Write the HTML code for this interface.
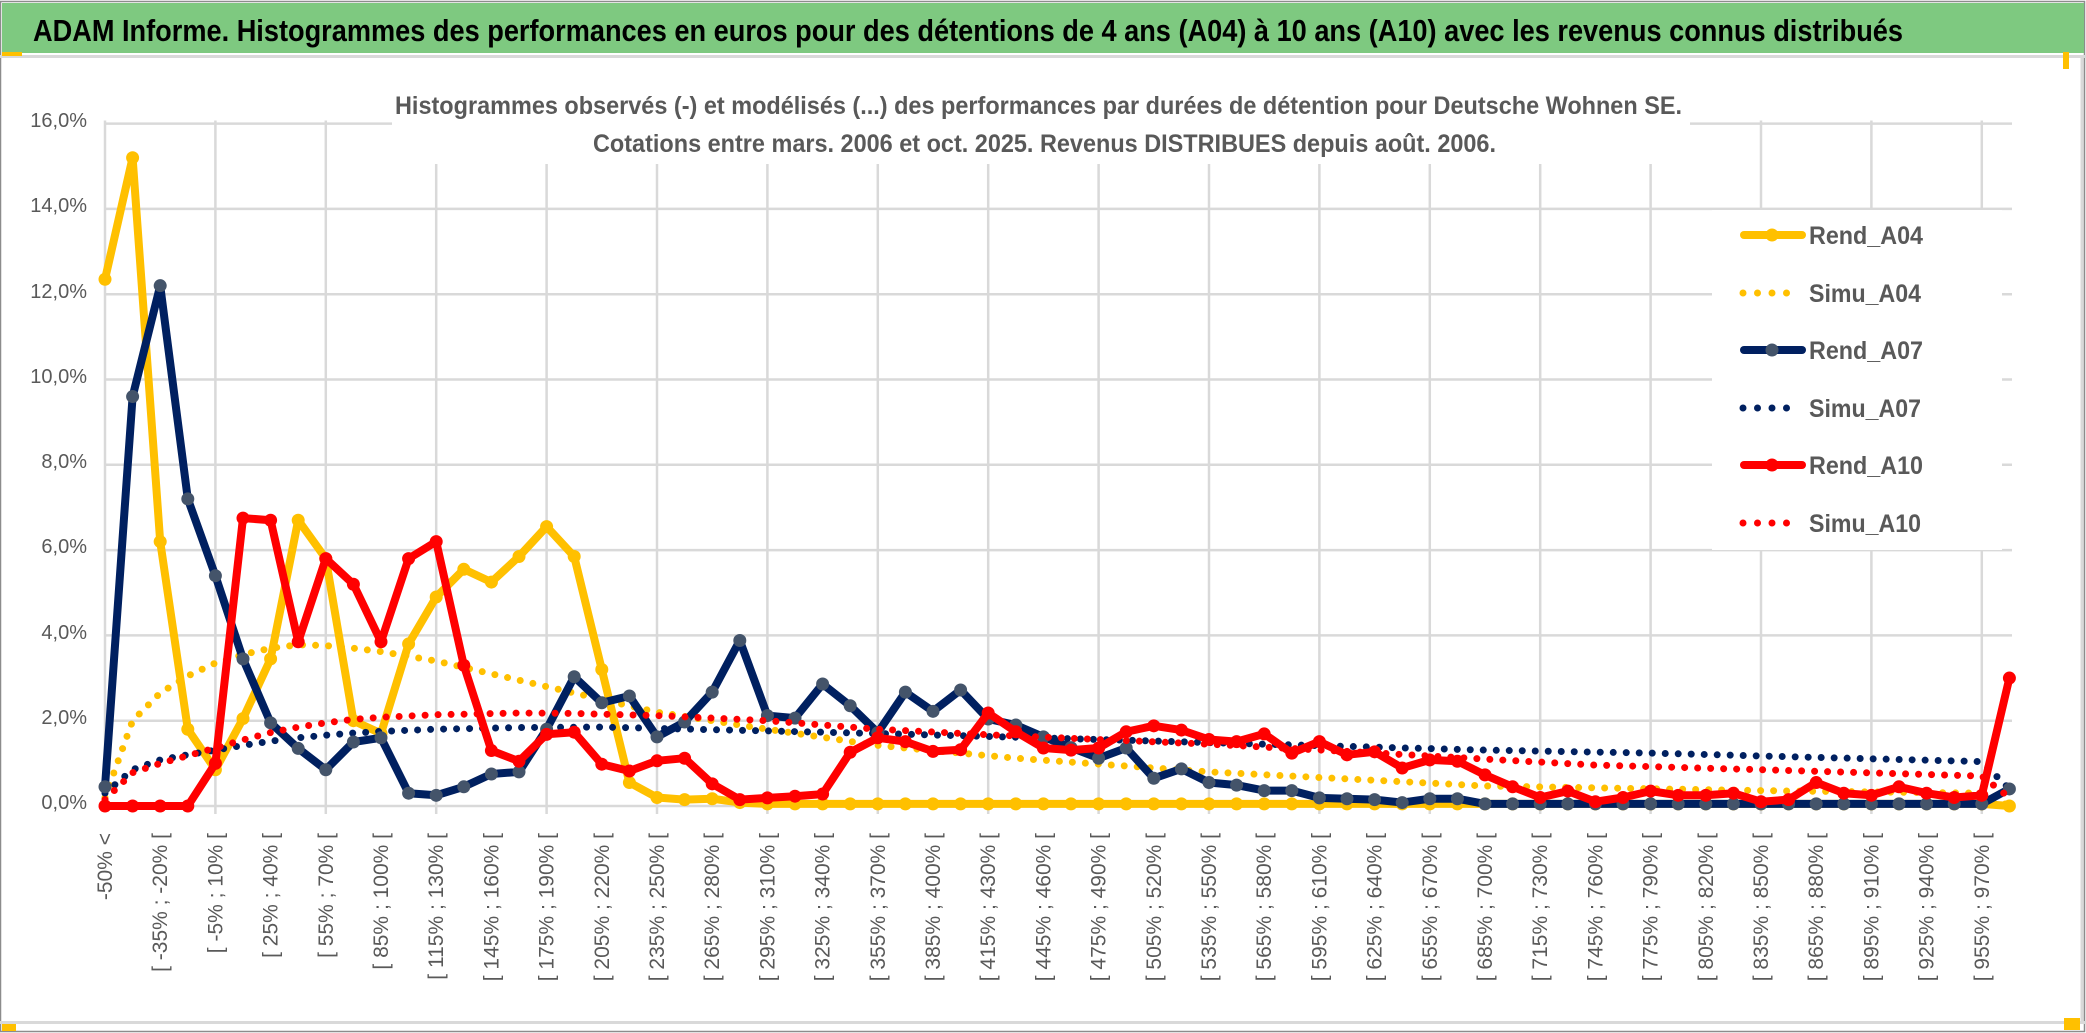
<!DOCTYPE html>
<html><head><meta charset="utf-8">
<style>
html,body{margin:0;padding:0;background:#fff;}
svg{display:block;}
text{font-family:"Liberation Sans",sans-serif;}
</style></head>
<body>
<svg id="c" width="2086" height="1033" viewBox="0 0 2086 1033" xmlns="http://www.w3.org/2000/svg">
<rect x="0" y="0" width="2086" height="1033" fill="#fff"/>
<rect x="0.5" y="1.5" width="2084" height="1030" fill="none" stroke="#8c8c8c" stroke-width="1.5"/>
<rect x="2" y="3" width="2082" height="50" fill="#7ec980"/>
<line x1="0" y1="56.5" x2="2086" y2="56.5" stroke="#d9d9d9" stroke-width="3"/>
<rect x="2" y="52" width="20" height="4" fill="#ffc000"/>
<rect x="2063" y="52" width="6" height="17" fill="#ffc000"/>
<line x1="2082" y1="58" x2="2082" y2="1022" stroke="#d9d9d9" stroke-width="3"/>
<line x1="0" y1="1022.5" x2="2086" y2="1022.5" stroke="#d9d9d9" stroke-width="3"/>
<rect x="2" y="1024" width="14" height="7" fill="#ffc000"/>
<rect x="2064" y="1018" width="16" height="12" fill="#ffc000"/>
<text x="33" y="41" font-size="31" font-weight="bold" fill="#000" textLength="1870" lengthAdjust="spacingAndGlyphs">ADAM Informe. Histogrammes des performances en euros pour des détentions de 4 ans (A04) à 10 ans (A10) avec les revenus connus distribués</text>

<g id="grid" stroke="#d9d9d9" stroke-width="2.5"></g>
<rect x="392" y="70" width="1298" height="94" fill="#fff"/>
<text x="395" y="114" font-size="25" font-weight="bold" fill="#595959" textLength="1287" lengthAdjust="spacingAndGlyphs">Histogrammes observés (-) et modélisés (...) des performances par durées de détention pour Deutsche Wohnen SE.</text>
<text x="593" y="152" font-size="25" font-weight="bold" fill="#595959" textLength="903" lengthAdjust="spacingAndGlyphs">Cotations entre mars. 2006 et oct. 2025. Revenus DISTRIBUES depuis août. 2006.</text>

<g font-size="20" fill="#595959" text-anchor="end">
<text x="87" y="127">16,0%</text>
<text x="87" y="212">14,0%</text>
<text x="87" y="298">12,0%</text>
<text x="87" y="383">10,0%</text>
<text x="87" y="468">8,0%</text>
<text x="87" y="553">6,0%</text>
<text x="87" y="639">4,0%</text>
<text x="87" y="724">2,0%</text>
<text x="87" y="809">0,0%</text>
</g>
<g id="xl" font-size="21" fill="#595959" text-anchor="end">
<text transform="translate(112,833) rotate(-90)">-50% &lt;</text>
<text transform="translate(167.2,833) rotate(-90)">[ -35% ; -20% [</text>
<text transform="translate(222.4,833) rotate(-90)">[ -5% ; 10% [</text>
<text transform="translate(277.6,833) rotate(-90)">[ 25% ; 40% [</text>
<text transform="translate(332.8,833) rotate(-90)">[ 55% ; 70% [</text>
<text transform="translate(388,833) rotate(-90)">[ 85% ; 100% [</text>
<text transform="translate(443.2,833) rotate(-90)">[ 115% ; 130% [</text>
<text transform="translate(498.4,833) rotate(-90)">[ 145% ; 160% [</text>
<text transform="translate(553.6,833) rotate(-90)">[ 175% ; 190% [</text>
<text transform="translate(608.8,833) rotate(-90)">[ 205% ; 220% [</text>
<text transform="translate(664,833) rotate(-90)">[ 235% ; 250% [</text>
<text transform="translate(719.2,833) rotate(-90)">[ 265% ; 280% [</text>
<text transform="translate(774.4,833) rotate(-90)">[ 295% ; 310% [</text>
<text transform="translate(829.6,833) rotate(-90)">[ 325% ; 340% [</text>
<text transform="translate(884.8,833) rotate(-90)">[ 355% ; 370% [</text>
<text transform="translate(940,833) rotate(-90)">[ 385% ; 400% [</text>
<text transform="translate(995.2,833) rotate(-90)">[ 415% ; 430% [</text>
<text transform="translate(1050.4,833) rotate(-90)">[ 445% ; 460% [</text>
<text transform="translate(1105.6,833) rotate(-90)">[ 475% ; 490% [</text>
<text transform="translate(1160.8,833) rotate(-90)">[ 505% ; 520% [</text>
<text transform="translate(1216,833) rotate(-90)">[ 535% ; 550% [</text>
<text transform="translate(1271.2,833) rotate(-90)">[ 565% ; 580% [</text>
<text transform="translate(1326.4,833) rotate(-90)">[ 595% ; 610% [</text>
<text transform="translate(1381.6,833) rotate(-90)">[ 625% ; 640% [</text>
<text transform="translate(1436.8,833) rotate(-90)">[ 655% ; 670% [</text>
<text transform="translate(1492,833) rotate(-90)">[ 685% ; 700% [</text>
<text transform="translate(1547.2,833) rotate(-90)">[ 715% ; 730% [</text>
<text transform="translate(1602.4,833) rotate(-90)">[ 745% ; 760% [</text>
<text transform="translate(1657.6,833) rotate(-90)">[ 775% ; 790% [</text>
<text transform="translate(1712.8,833) rotate(-90)">[ 805% ; 820% [</text>
<text transform="translate(1768,833) rotate(-90)">[ 835% ; 850% [</text>
<text transform="translate(1823.2,833) rotate(-90)">[ 865% ; 880% [</text>
<text transform="translate(1878.4,833) rotate(-90)">[ 895% ; 910% [</text>
<text transform="translate(1933.6,833) rotate(-90)">[ 925% ; 940% [</text>
<text transform="translate(1988.8,833) rotate(-90)">[ 955% ; 970% [</text>
</g>
<g id="series"></g>

<rect x="1712" y="210" width="290" height="340" fill="#fff"/>
<g stroke-linecap="round">
<line x1="1744" y1="235" x2="1802" y2="235" stroke="#ffc000" stroke-width="8"/><circle cx="1772" cy="235" r="6.5" fill="#ffc000"/>
<line x1="1743" y1="293" x2="1789" y2="293" stroke="#ffc000" stroke-width="7" stroke-dasharray="0 14.5"/>
<line x1="1744" y1="350" x2="1802" y2="350" stroke="#002060" stroke-width="8"/><circle cx="1772" cy="350" r="6.5" fill="#44546a"/>
<line x1="1743" y1="408" x2="1789" y2="408" stroke="#002060" stroke-width="7" stroke-dasharray="0 14.5"/>
<line x1="1744" y1="465" x2="1802" y2="465" stroke="#ff0000" stroke-width="8"/><circle cx="1772" cy="465" r="6.5" fill="#ff0000"/>
<line x1="1743" y1="523" x2="1801" y2="523" stroke="#ff0000" stroke-width="7" stroke-dasharray="0 14.5"/>
</g>
<g font-size="25" fill="#595959" font-weight="bold">
<text x="1809" y="244" textLength="114" lengthAdjust="spacingAndGlyphs">Rend_A04</text>
<text x="1809" y="302" textLength="112" lengthAdjust="spacingAndGlyphs">Simu_A04</text>
<text x="1809" y="359" textLength="114" lengthAdjust="spacingAndGlyphs">Rend_A07</text>
<text x="1809" y="417" textLength="112" lengthAdjust="spacingAndGlyphs">Simu_A07</text>
<text x="1809" y="474" textLength="114" lengthAdjust="spacingAndGlyphs">Rend_A10</text>
<text x="1809" y="532" textLength="112" lengthAdjust="spacingAndGlyphs">Simu_A10</text>
</g>
</svg>
<script>
(function(){
var NS="http://www.w3.org/2000/svg";
var X0=105, DX=27.6, Y0=806, KY=42.65;
function X(i){return X0+DX*i;}
function Y(v){return Y0-KY*v;}
var g=document.getElementById('grid');
function ln(p,x1,y1,x2,y2){var l=document.createElementNS(NS,'line');l.setAttribute('x1',x1);l.setAttribute('y1',y1);l.setAttribute('x2',x2);l.setAttribute('y2',y2);p.appendChild(l);}
for(var k=0;k<=8;k++){var y=Y(2*k);ln(g,X0,y,2012,y);}
for(var i=4;i<=68;i+=4){ln(g,X(i),120.5,X(i),Y0+8);}
ln(g,X0,120.5,X0,Y0);
function interp(anch,n){var a=[];var keys=Object.keys(anch).map(Number).sort(function(p,q){return p-q;});
 for(var i=0;i<n;i++){var j=0;while(j<keys.length-1&&keys[j+1]<i)j++;
  var k0=keys[j],k1=keys[Math.min(j+1,keys.length-1)];
  if(i<=k0){a.push(anch[k0]);continue;}
  var t=(i-k0)/(k1-k0);a.push(anch[k0]+(anch[k1]-anch[k0])*t);}return a;}
var N=70;
var s04=interp({0:0.2,1:2.0,2:2.65,3:3.05,4:3.35,5:3.55,6:3.7,7:3.78,8:3.76,9:3.7,10:3.62,12:3.4,14:3.1,17:2.65,20:2.2,24:1.8,28:1.42,33:1.12,40:0.8,50:0.47,60:0.36,68:0.3,69:0.0},N);
var s07=interp({0:0.3,1:0.85,2:1.08,3:1.2,4:1.31,5:1.42,6:1.52,7:1.6,8:1.66,9:1.71,10:1.75,12:1.8,15:1.84,18:1.85,20:1.82,24:1.76,28:1.7,32:1.63,36:1.56,42:1.45,50:1.31,56:1.24,62:1.14,68:1.04,69:0.4},N);
var s10=interp({0:0.15,1:0.78,2:1.0,3:1.18,4:1.36,5:1.55,6:1.72,7:1.85,8:1.95,9:2.03,10:2.08,12:2.14,15:2.18,17:2.17,20:2.12,24:2.0,28:1.8,32:1.67,36:1.56,40:1.45,45:1.28,50:1.1,54:0.96,60:0.85,68:0.7,69:0.2},N);
var r04=[12.35,15.2,6.2,1.8,0.85,2.05,3.45,6.7,5.8,2.0,1.7,3.8,4.9,5.55,5.25,5.85,6.55,5.85,3.2,0.55,0.2,0.15,0.17,0.08];
while(r04.length<69)r04.push(0.05);r04.push(0.0);
var r07=[0.45,9.6,12.2,7.2,5.4,3.45,1.95,1.35,0.85,1.5,1.6,0.3,0.25,0.45,0.75,0.8,1.8,3.03,2.42,2.58,1.62,1.97,2.67,3.88,2.12,2.06,2.86,2.35,1.72,2.67,2.22,2.72,2.04,1.9,1.62,1.37,1.12,1.36,0.65,0.87,0.55,0.49,0.36,0.36,0.19,0.17,0.15,0.08,0.17,0.17,0.05];
while(r07.length<69)r07.push(0.05);r07.push(0.4);
var r10=[0,0,0,0,1.0,6.75,6.7,3.85,5.8,5.2,3.85,5.8,6.2,3.3,1.3,1.05,1.68,1.73,0.98,0.82,1.06,1.12,0.52,0.15,0.19,0.23,0.28,1.26,1.6,1.51,1.28,1.32,2.18,1.74,1.36,1.31,1.36,1.74,1.88,1.78,1.56,1.51,1.69,1.24,1.51,1.2,1.27,0.89,1.08,1.05,0.73,0.45,0.2,0.35,0.1,0.2,0.35,0.25,0.25,0.3,0.1,0.15,0.55,0.3,0.25,0.45,0.3,0.2,0.25,3.0];
var S=document.getElementById('series');
function path(arr){var d='';for(var i=0;i<arr.length;i++){d+=(i?'L':'M')+X(i).toFixed(1)+' '+Y(arr[i]).toFixed(1);}return d;}
function dotted(arr,col){var p=document.createElementNS(NS,'path');p.setAttribute('d',path(arr));p.setAttribute('fill','none');p.setAttribute('stroke',col);p.setAttribute('stroke-width','7');p.setAttribute('stroke-linecap','round');p.setAttribute('stroke-dasharray','0 13');S.appendChild(p);}
function solid(arr,col,mk){var p=document.createElementNS(NS,'path');p.setAttribute('d',path(arr));p.setAttribute('fill','none');p.setAttribute('stroke',col);p.setAttribute('stroke-width','8');p.setAttribute('stroke-linejoin','round');S.appendChild(p);
 for(var i=0;i<arr.length;i++){var c=document.createElementNS(NS,'circle');c.setAttribute('cx',X(i));c.setAttribute('cy',Y(arr[i]));c.setAttribute('r','6.5');c.setAttribute('fill',mk);S.appendChild(c);}}
dotted(s04,'#ffc000');
solid(r04,'#ffc000','#ffc000');
dotted(s07,'#002060');
solid(r07,'#002060','#44546a');
dotted(s10,'#ff0000');
solid(r10,'#ff0000','#ff0000');
})();
</script>
</body></html>
